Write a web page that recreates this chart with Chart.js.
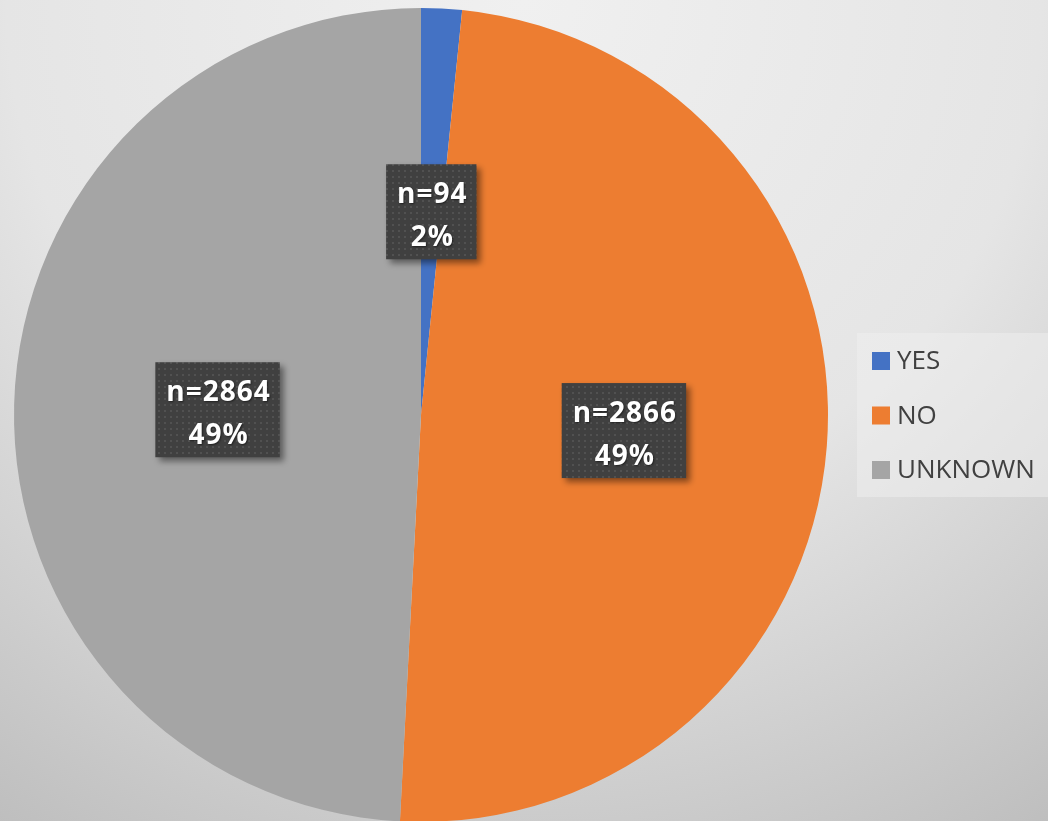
<!DOCTYPE html>
<html>
<head>
<meta charset="utf-8">
<script src="https://cdn.jsdelivr.net/npm/chart.js@4/dist/chart.umd.min.js"></script>
<style>
  html, body { margin: 0; padding: 0; overflow: hidden; }
  #box { width: 1048px; height: 830px; }
</style>
</head>
<body>
<div id="box"><canvas id="pie"></canvas></div>
<script>
const categories = ["YES", "NO", "UNKNOWN"];
const counts     = [94, 2866, 2864];
const colors     = ["#4472C4", "#ED7D31", "#A5A5A5"];

// background gradient behind everything
const bgPlugin = {
  id: "bg",
  beforeDraw(chart) {
    const c = chart.ctx;
    const g = c.createRadialGradient(524, 0, 0, 524, 0, 1150);
    g.addColorStop(0, "#f0f0f0");
    g.addColorStop(0.45, "#e5e5e5");
    g.addColorStop(0.85, "#bebebe");
    g.addColorStop(1, "#bababa");
    c.save();
    c.fillStyle = g;
    c.fillRect(0, 0, chart.width, chart.height);
    c.restore();
  }
};

// dark dotted box for each slice label
function dotPattern(ctx) {
  const p = document.createElement("canvas");
  p.width = 6; p.height = 6;
  const pc = p.getContext("2d");
  pc.fillStyle = "#404040";
  pc.fillRect(0, 0, 6, 6);
  pc.fillStyle = "#515151";
  pc.fillRect(2, 2, 2, 2);
  return ctx.createPattern(p, "repeat");
}

const labelPlugin = {
  id: "sliceLabels",
  afterDatasetsDraw(chart) {
    const c = chart.ctx;
    const meta = chart.getDatasetMeta(0);
    const total = counts.reduce((a, b) => a + b, 0);
    const pat = dotPattern(c);
    c.save();
    c.font = "bold 28px 'Open Sans'";
    c.letterSpacing = "1px";
    meta.data.forEach((arc, i) => {
      const pos = arc.tooltipPosition();
      const l1 = "n=" + counts[i];
      const l2 = Math.round(counts[i] / total * 100) + "%";
      const w = Math.max(c.measureText(l1).width, c.measureText(l2).width) + 20;
      const h = 95;
      const x = pos.x - w / 2, y = pos.y - h / 2;
      c.save();
      c.shadowColor = "rgba(0,0,0,0.45)";
      c.shadowBlur = 6;
      c.shadowOffsetX = 4;
      c.shadowOffsetY = 4;
      c.fillStyle = pat;
      c.fillRect(x, y, w, h);
      c.restore();
      c.save();
      c.fillStyle = "#ffffff";
      c.textAlign = "center";
      c.textBaseline = "alphabetic";
      c.shadowColor = "rgba(0,0,0,0.5)";
      c.shadowBlur = 2;
      c.shadowOffsetX = 1;
      c.shadowOffsetY = 1;
      c.fillText(l1, pos.x + 1, y + 39);
      c.fillText(l2, pos.x + 1, y + 82);
      c.restore();
    });
    c.restore();
  }
};

// legend drawn at the right, from the chart's own labels and colours
const legendPlugin = {
  id: "sideLegend",
  afterDraw(chart) {
    const c = chart.ctx;
    const ds = chart.data.datasets[0];
    c.save();
    c.fillStyle = "rgba(240,240,240,0.5)";
    c.fillRect(857, 333, 200, 164);
    c.font = "26px 'Open Sans'";
    c.textBaseline = "middle";
    c.textAlign = "left";
    chart.data.labels.forEach((lab, i) => {
      const cy = 361 + i * 54.5;
      c.fillStyle = ds.backgroundColor[i];
      c.fillRect(872, cy - 9, 18, 18);
      c.fillStyle = "#404040";
      c.fillText(lab, 897, cy + 1);
    });
    c.restore();
  }
};

new Chart(document.getElementById("pie"), {
  type: "pie",
  data: {
    labels: categories,
    datasets: [{
      data: counts,
      backgroundColor: colors,
      borderWidth: 0
    }]
  },
  options: {
    responsive: true,
    maintainAspectRatio: false,
    animation: false,
    layout: { padding: { left: 14, right: 220, top: 8, bottom: 8 } },
    plugins: {
      legend: { display: false },
      tooltip: { enabled: false }
    }
  },
  plugins: [bgPlugin, labelPlugin, legendPlugin]
});
</script>
</body>
</html>
